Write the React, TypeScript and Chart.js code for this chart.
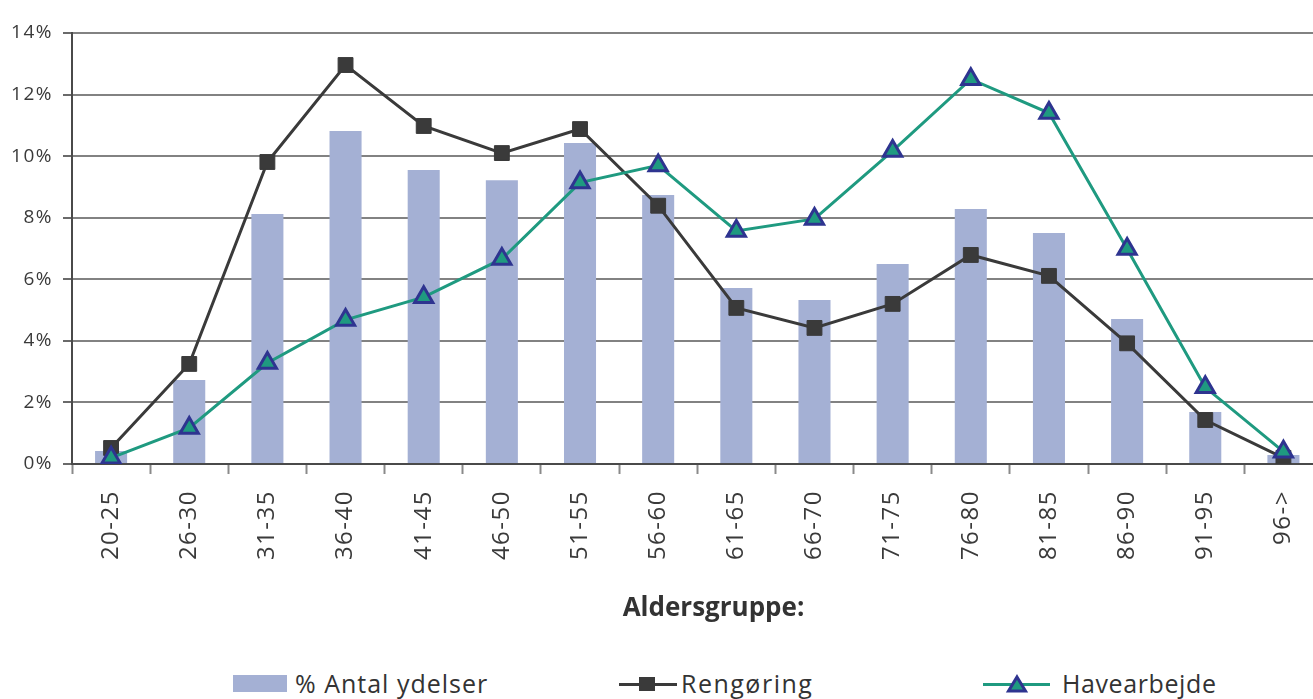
import React, { useEffect, useRef } from "react";
import { Chart, registerables } from "chart.js";

Chart.register(...registerables);

const categories = ["20-25", "26-30", "31-35", "36-40", "41-45", "46-50", "51-55", "56-60", "61-65", "66-70", "71-75", "76-80", "81-85", "86-90", "91-95", "96->"];
const antalYdelser = [0.42, 2.73, 8.12, 10.82, 9.55, 9.22, 10.43, 8.74, 5.72, 5.33, 6.5, 8.28, 7.5, 4.71, 1.69, 0.29];
const rengoring = [0.52, 3.25, 9.81, 12.96, 10.98, 10.1, 10.88, 8.39, 5.07, 4.42, 5.2, 6.79, 6.11, 3.92, 1.43, 0.2];
const havearbejde = [0.2, 1.17, 3.28, 4.68, 5.42, 6.66, 9.14, 9.7, 7.57, 7.96, 10.17, 12.5, 11.4, 6.98, 2.49, 0.4];
const yTicks = [0, 2, 4, 6, 8, 10, 12, 14];
const axisTitle = "Aldersgruppe:";
const seriesNames = ["% Antal ydelser", "Rengøring", "Havearbejde"];

const BAR = "#A4B0D4";
const DARK = "#3A3A3A";
const TEAL = "#1F9A80";
const NAVY = "#2E3490";
const FONT = "'Open Sans', 'Noto Sans', sans-serif";

const spacingPlugin = {
  id: "spacing",
  beforeDraw(chart: any) {
    chart.ctx.letterSpacing = "1.5px";
  },
};

export default function App() {
  const ref = useRef<HTMLCanvasElement | null>(null);

  useEffect(() => {
    if (!ref.current) return;
    const chart = new Chart(ref.current, {
      type: "bar",
      data: {
        labels: categories,
        datasets: [
          {
            type: "line",
            label: seriesNames[2],
            data: havearbejde,
            borderColor: TEAL,
            borderWidth: 3,
            pointStyle: "triangle",
            pointRadius: 10.5,
            pointBackgroundColor: TEAL,
            pointBorderColor: NAVY,
            pointBorderWidth: 3,
            tension: 0,
            order: 0,
          } as any,
          {
            type: "line",
            label: seriesNames[1],
            data: rengoring,
            borderColor: DARK,
            borderWidth: 3,
            pointStyle: "rect",
            pointRadius: 10.5,
            pointBackgroundColor: DARK,
            pointBorderColor: DARK,
            pointBorderWidth: 1,
            tension: 0,
            order: 1,
          } as any,
          {
            type: "bar",
            label: seriesNames[0],
            data: antalYdelser,
            backgroundColor: BAR,
            barPercentage: 0.41,
            categoryPercentage: 1,
            order: 2,
          } as any,
        ],
      },
      options: {
        responsive: false,
        animation: false,
        layout: { padding: { top: 33, right: 0, left: 0, bottom: 0 } },
        plugins: { legend: { display: false }, tooltip: { enabled: false } },
        scales: {
          x: {
            offset: true,
            grid: {
              offset: true,
              drawOnChartArea: false,
              drawTicks: true,
              tickLength: 10,
              tickColor: "#8a8a8a",
              tickWidth: 2,
            },
            border: { color: "#4a4a4a", width: 2 },
            ticks: {
              minRotation: 90,
              maxRotation: 90,
              autoSkip: false,
              padding: 16,
              color: "#3a3a3a",
              font: { family: FONT, size: 24 },
            },
            afterFit: (s: any) => {
              s.height = 136;
            },
          },
          y: {
            min: 0,
            max: 14,
            afterBuildTicks: (s: any) => {
              s.ticks = yTicks.map((v) => ({ value: v }));
            },
            grid: {
              color: "#828282",
              lineWidth: 2,
              drawTicks: true,
              tickLength: 9,
              tickColor: "#6a6a6a",
            },
            border: { color: "#4a4a4a", width: 2 },
            ticks: {
              padding: 10,
              color: "#3a3a3a",
              font: { family: FONT, size: 19 },
              callback: (v: any) => v + "%",
            },
            afterFit: (s: any) => {
              s.width = 72;
            },
          },
        },
      },
      plugins: [spacingPlugin],
    });
    return () => chart.destroy();
  }, []);

  const legendText: React.CSSProperties = {
    position: "absolute",
    top: 668,
    fontFamily: FONT,
    fontSize: 25,
    letterSpacing: "1px",
    color: "#333",
    lineHeight: "30px",
    whiteSpace: "nowrap",
  };

  return (
    <div style={{ position: "fixed", left: 0, top: 0, width: 1313, height: 699, overflow: "hidden", background: "#fff" }}>
      <canvas ref={ref} width={1336} height={600} style={{ position: "absolute", left: 0, top: 0, width: 1336, height: 600 }} />
      <div
        style={{
          position: "absolute",
          left: 0,
          width: 1427,
          top: 591,
          textAlign: "center",
          fontFamily: FONT,
          fontWeight: 700,
          fontSize: 26,
          color: "#333",
          lineHeight: "30px",
        }}
      >
        {axisTitle}
      </div>
      {/* legend */}
      <div style={{ position: "absolute", left: 233, top: 675, width: 54, height: 17, background: BAR }} />
      <div style={{ ...legendText, left: 295 }}>{seriesNames[0]}</div>
      <div style={{ position: "absolute", left: 619, top: 683, width: 58, height: 3, background: DARK }} />
      <div style={{ position: "absolute", left: 639, top: 677, width: 16, height: 14, background: DARK }} />
      <div style={{ ...legendText, left: 681, letterSpacing: "1.5px" }}>{seriesNames[1]}</div>
      <div style={{ position: "absolute", left: 983, top: 683, width: 67, height: 3, background: TEAL }} />
      <svg style={{ position: "absolute", left: 1006, top: 675, width: 22, height: 18, overflow: "visible" }}>
        <polygon points="11,2 19.5,16 2.5,16" fill={TEAL} stroke={NAVY} strokeWidth={3} strokeLinejoin="miter" />
      </svg>
      <div style={{ ...legendText, left: 1062, letterSpacing: "0.6px" }}>{seriesNames[2]}</div>
    </div>
  );
}
